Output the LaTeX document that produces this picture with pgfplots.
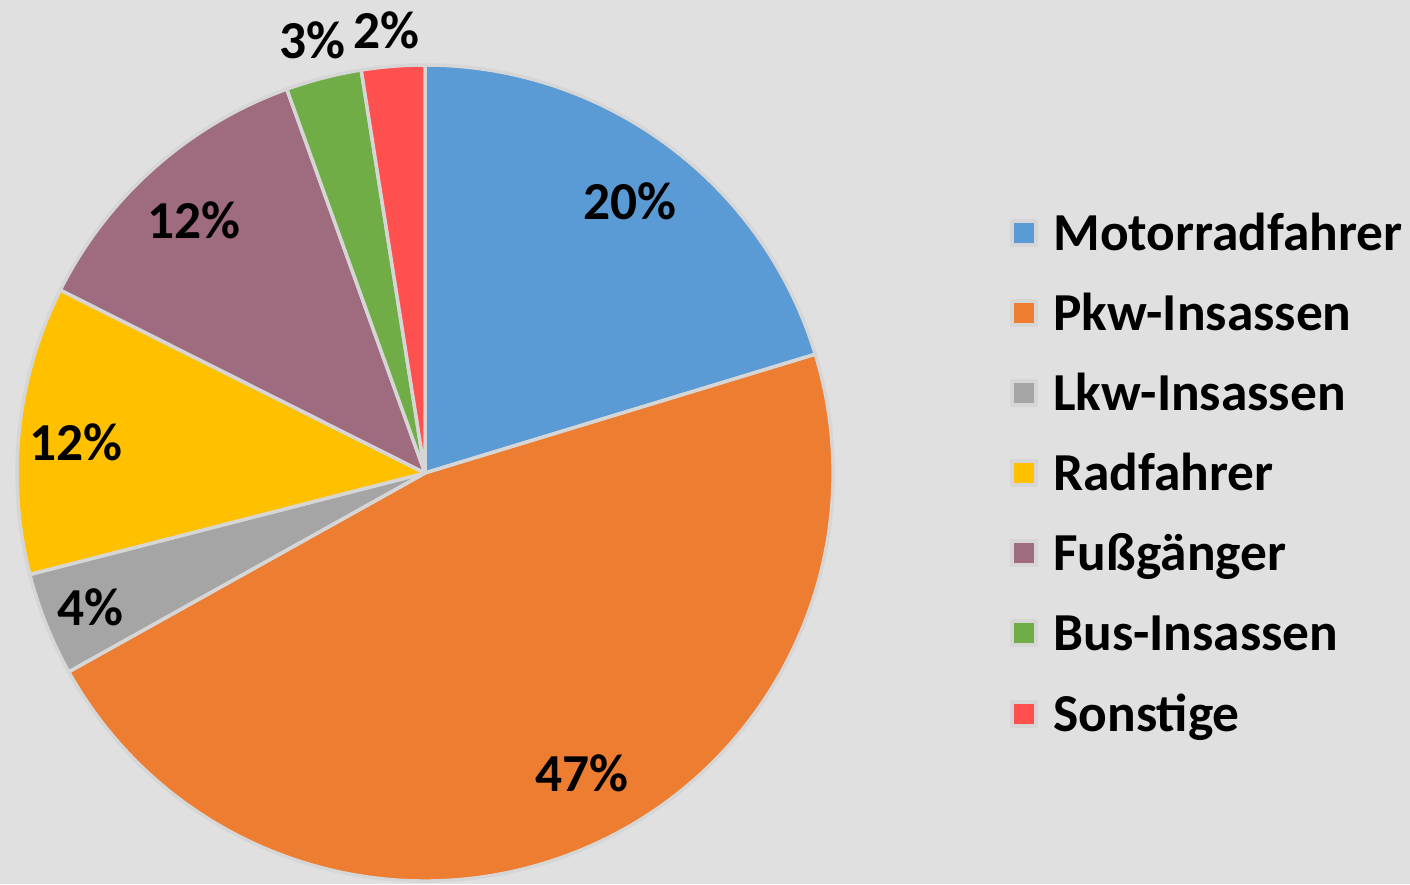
\documentclass[border=0pt]{standalone}
\usepackage{pgfplots}
\pgfplotsset{compat=1.18}
\usepackage{pgfplotstable}
\usepackage{fontspec}
\setmainfont{Carlito}
\definecolor{bg}{HTML}{E0E0E0}
\definecolor{pieedge}{HTML}{D6D6D6}
\definecolor{cMoto}{HTML}{5B9BD5}
\definecolor{cPkw}{HTML}{ED7D31}
\definecolor{cLkw}{HTML}{A5A5A5}
\definecolor{cRad}{HTML}{FFC000}
\definecolor{cFuss}{HTML}{9E6B7F}
\definecolor{cBus}{HTML}{70AD47}
\definecolor{cSon}{HTML}{FF5050}
\pgfplotstableread{
name value lab color lx ly legy
Motorradfahrer 20.3 20 cMoto 630 683 651
Pkw-Insassen 46.6 47 cPkw 582 111 571
Lkw-Insassen 4.1 4 cLkw 90 277 491
Radfahrer 11.4 12 cRad 76 442 411
Fußgänger 12.1 12 cFuss 194 664 331
Bus-Insassen 3.0 3 cBus 312 844 251
Sonstige 2.5 2 cSon 386 854 170
}\piedata
\tikzset{lab/.style={font=\fontsize{26.8}{31}\selectfont\bfseries, inner sep=0pt}}
\begin{document}
\begin{tikzpicture}
\begin{axis}[x=0.5bp,y=0.5bp,xmin=0,xmax=1410,ymin=0,ymax=884,
  hide axis, clip=false, scale only axis]
\fill[bg] (axis cs:0,0) rectangle (axis cs:1410,884);
\coordinate (ll) at (axis cs:0,0);
\coordinate (ur) at (axis cs:1410,884);
\pgfmathsetmacro\cum{0}
\pgfplotsforeachungrouped \i in {0,...,6}{
  \pgfplotstablegetelem{\i}{value}\of\piedata \let\v\pgfplotsretval
  \pgfplotstablegetelem{\i}{color}\of\piedata \let\c\pgfplotsretval
  \pgfmathsetmacro\sa{90-3.6*\cum}
  \pgfmathsetmacro\cum{\cum+\v}
  \pgfmathsetmacro\ea{90-3.6*\cum}
  \edef\tmp{\noexpand\fill[\c, draw=pieedge, line width=1.75bp, line join=round]
    (axis cs:425,411) -- ++(\sa:204bp) arc[start angle=\sa, end angle=\ea, radius=204bp] -- cycle;}
  \tmp
}
\pgfplotsforeachungrouped \i in {0,...,6}{
  \pgfplotstablegetelem{\i}{lab}\of\piedata \let\l\pgfplotsretval
  \pgfplotstablegetelem{\i}{lx}\of\piedata \let\lx\pgfplotsretval
  \pgfplotstablegetelem{\i}{ly}\of\piedata \let\ly\pgfplotsretval
  \pgfplotstablegetelem{\i}{name}\of\piedata \let\n\pgfplotsretval
  \pgfplotstablegetelem{\i}{color}\of\piedata \let\c\pgfplotsretval
  \pgfplotstablegetelem{\i}{legy}\of\piedata \let\gy\pgfplotsretval
  \edef\tmp{\noexpand\node[lab] at (axis cs:\lx,\ly) {\l\%};
    \noexpand\fill[\c, draw=pieedge, line width=2bp] (axis cs:1012,\gy) ++(0,-6bp) rectangle ++(12bp,12bp);
    \noexpand\node[lab, anchor=base west] at (axis cs:1053,\gy) [yshift=-8.6bp] {\n};}
  \tmp
}
\end{axis}
\pgfresetboundingbox
\useasboundingbox (ll) rectangle (ur);
\end{tikzpicture}
\end{document}
